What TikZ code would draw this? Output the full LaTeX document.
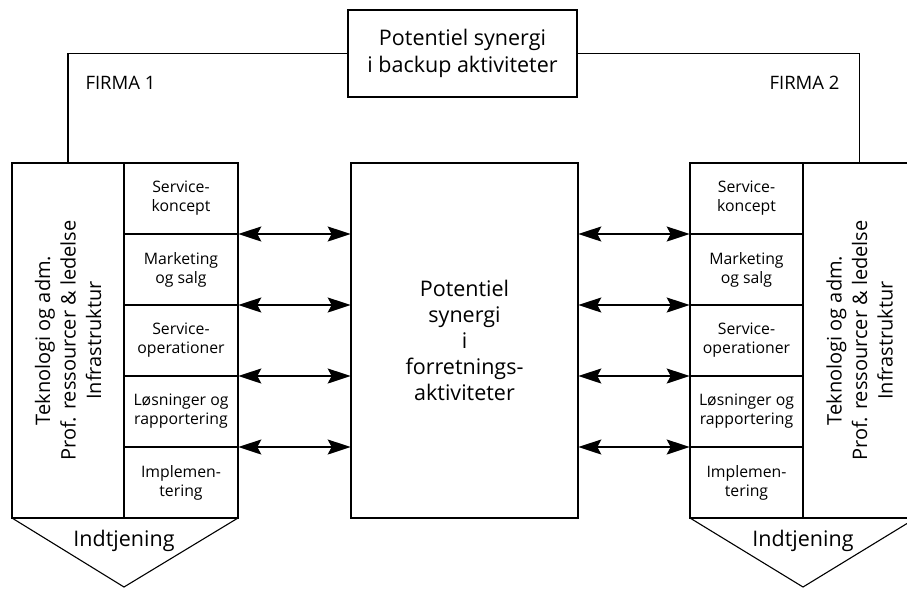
\documentclass[tikz,border=0pt]{standalone}
\usepackage{fontspec}
\setmainfont{Open Sans}
\usetikzlibrary{arrows.meta}
\begin{document}
\begin{tikzpicture}[x=1pt,y=-1pt,
  box/.style={draw,line width=1.1pt,inner sep=0pt,outer sep=0pt},
  small/.style={box,minimum width=114pt,minimum height=71pt,align=center,
     font=\fontsize{15.8}{19}\selectfont},
  arr/.style={line width=1.9pt,{Stealth[length=23pt,width=15pt,inset=4pt]}-{Stealth[length=23pt,width=15pt,inset=4pt]},shorten <=0.3pt,shorten >=0.3pt},
  big/.style={font=\fontsize{21.5}{26}\selectfont,align=center},
  rot/.style={rotate=90,align=center,font=\fontsize{20}{25.5}\selectfont},
  lbl/.style={font=\fontsize{18.5}{20}\selectfont}]
\useasboundingbox (0,0) rectangle (907,590);
\clip (0,0) rectangle (907,590);
% top box
\node[box,minimum width=229pt,minimum height=87pt,align=center,font=\fontsize{21.5}{27}\selectfont] (top) at (462.5,53.5) {Potentiel synergi\\i backup aktiviteter};
% left block
\node[box,minimum width=112pt,minimum height=355pt] (lout) at (68,340.5) {};
\node[rot] (ltxt) at (lout.center) {Teknologi og adm.\\Prof. ressourcer \& ledelse\\Infrastruktur};
\node[small,anchor=north west] (l1) at (lout.north east) {Service-\\koncept};
\node[small,anchor=north] (l2) at (l1.south) {Marketing\\og salg};
\node[small,anchor=north] (l3) at (l2.south) {Service-\\operationer};
\node[small,anchor=north] (l4) at (l3.south) {Løsninger og\\rapportering};
\node[small,anchor=north] (l5) at (l4.south) {Implemen-\\tering};
\coordinate (tipL) at (124,587);
\draw[line width=1.1pt,line join=miter] (lout.south west) -- (tipL) -- (l5.south east);
\node[big] (lind) at (124,541) {Indtjening};
% center box
\node[box,minimum width=227pt,minimum height=355pt,big] (mid) at (464.5,340.5) {Potentiel\\synergi\\i\\forretnings-\\aktiviteter};
% right block
\node[small,minimum width=113pt,anchor=north west] (r1) at (690,163) {Service-\\koncept};
\node[small,minimum width=113pt,anchor=north] (r2) at (r1.south) {Marketing\\og salg};
\node[small,minimum width=113pt,anchor=north] (r3) at (r2.south) {Service-\\operationer};
\node[small,minimum width=113pt,anchor=north] (r4) at (r3.south) {Løsninger og\\rapportering};
\node[small,minimum width=113pt,anchor=north] (r5) at (r4.south) {Implemen-\\tering};
\node[box,minimum width=113pt,minimum height=355pt,anchor=north west] (rout) at (r1.north east) {};
\node[rot] (rtxt) at (rout.center) {Teknologi og adm.\\Prof. ressourcer \& ledelse\\Infrastruktur};
\coordinate (tipR) at (803,587);
\draw[line width=1.1pt,line join=miter] (r5.south west) -- (tipR) -- (rout.south east);
\node[big] (rind) at (803,541) {Indtjening};
% connectors top
\draw[line width=1.1pt] (top.west) -| (lout.north);
\draw[line width=1.1pt] (top.east) -| (rout.north);
\node[lbl,anchor=west] (f1) at (82,83) {FIRMA 1};
\node[lbl,anchor=east] (f2) at (843,83) {FIRMA 2};
% arrows
\foreach \i in {1,2,3,4}{
  \draw[arr] (l\i.south east) -- (mid.west |- l\i.south east);
  \draw[arr] (mid.east |- r\i.south west) -- (r\i.south west);
}
\end{tikzpicture}
\end{document}
